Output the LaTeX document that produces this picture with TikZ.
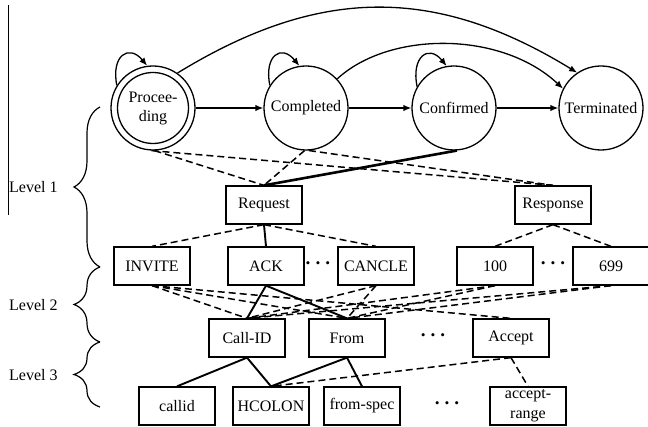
\documentclass[tikz,border=0pt]{standalone}
\usepackage{fontspec}
\setmainfont{Liberation Serif}
\usetikzlibrary{arrows.meta,decorations.pathreplacing}
\newcommand\mydots{{\fontsize{19}{19}\selectfont\bfseries ·\hspace{3.5pt}·\hspace{3.5pt}·}}
\begin{document}
\begin{tikzpicture}[x=1pt,y=1pt,
  font=\fontsize{16}{19}\selectfont,
  state/.style={circle,draw,line width=1.3pt,minimum size=84pt,inner sep=0pt,align=center},
  box/.style={rectangle,draw,line width=1.3pt,minimum width=76pt,minimum height=38pt,inner sep=0pt,align=center},
  arr/.style={line width=1.3pt,-{Latex[length=8pt,width=6.5pt]}},
  sol/.style={line width=1.9pt},
  thk/.style={line width=2.6pt},
  dsh/.style={line width=1.5pt,dash pattern=on 7pt off 4pt},
  lbl/.style={anchor=west,inner sep=0pt},
  brc/.style={line width=1.2pt,decorate,decoration={brace,amplitude=26pt}},
  dotsn/.style={inner sep=0pt}
]
\useasboundingbox (0,0) rectangle (648,427);

% states
\node[state] (pro) at (153,319) {Procee-\\ding};
\draw[line width=1.3pt] (pro.center) circle (35.5);
\node[state] (com) at (306,319) {Completed};
\node[state] (con) at (454,319) {Confirmed};
\node[state] (ter) at (601,319) {Terminated};

\draw[arr] (pro) -- (com);
\draw[arr] (com) -- (con);
\draw[arr] (con) -- (ter);
\draw[arr] (pro.148) .. controls +(-6,30) and +(-18,22) .. (pro.98);
\draw[arr] (com.148) .. controls +(-6,30) and +(-18,22) .. (com.99);
\draw[arr] (con.150) .. controls +(-6,30) and +(-18,22) .. (con.100);
\draw[arr] (pro.55) .. controls +(142,87) and +(-142,87) .. (ter.124);
\draw[arr] (com.43) .. controls +(52,48) and +(-62,58) .. (ter.153);

% level 1 boxes
\node[box] (req) at (264,222) {Request};
\node[box] (res) at (553,222) {Response};

% level 2 boxes
\node[box] (inv) at (152,161) {INVITE};
\node[box] (ack) at (266,161) {ACK};
\node[box] (can) at (376,161) {CANCLE};
\node[box] (c100) at (495,161) {100};
\node[box] (c699) at (611,161) {699};
\node[dotsn] (d1) at (318,161) {\mydots};
\node[dotsn] (d2) at (553,161) {\mydots};

% level 3 boxes
\node[box] (cid) at (247,89) {Call-ID};
\node[box] (frm) at (347,89) {From};
\node[box] (acc) at (511,89) {Accept};
\node[dotsn] (d3) at (433,89) {\mydots};

% level 4 boxes
\node[box] (cal) at (177,21) {callid};
\node[box] (hco) at (271,21) {HCOLON};
\node[box] (fsp) at (362,21) {from-spec};
\node[box,font=\fontsize{16}{20}\selectfont] (arg) at (528,21) {accept-\\range};
\node[dotsn] (d4) at (447,21) {\mydots};

% states to level 1
\draw[dsh] (pro.-88) -- (req.north);
\draw[dsh] (pro.-92) -- (res.north);
\draw[dsh] (com.-92) -- (req.north);
\draw[dsh] (com.-86) -- (res.north);
\draw[thk] (con.-86) -- (req.north);

% level 1 to level 2
\draw[dsh] (req.south) -- (inv.north);
\draw[sol] (req.south) -- (ack.north);
\draw[dsh] (req.south) -- (can.north);
\draw[dsh] (res.south) -- (c100.north);
\draw[dsh] (res.south) -- (c699.north);

% level 2 to level 3
\draw[dsh] (inv.south) -- (cid.north);
\draw[dsh] (inv.south) -- (frm.north);
\draw[dsh] (inv.south) -- (acc.north);
\draw[sol] (ack.south) -- (cid.north);
\draw[sol] (ack.south) -- (frm.north);
\draw[dsh] (can.south) -- (cid.north);
\draw[dsh] (can.south) -- (frm.north);
\draw[dsh] (c100.south) -- (cid.north);
\draw[dsh] (c100.south) -- (frm.north);
\draw[dsh] (c699.south) -- (cid.north);
\draw[dsh] (c699.south) -- (frm.north);

% level 3 to level 4
\draw[sol] (cid.south) -- (cal.north);
\draw[sol] (cid.south) -- (hco.north);
\draw[sol] (frm.south) -- (hco.north);
\draw[sol] (frm.south) -- (fsp.north);
\draw[dsh] (acc.south) -- (hco.north);
\draw[dsh] (acc.south) -- (arg.north);

% levels
\draw[line width=1pt] (8,422) -- (8,212);
\node[lbl] (l1) at (9,240) {Level 1};
\node[lbl] (l2) at (9,122) {Level 2};
\node[lbl] (l3) at (9,52) {Level 3};
\draw[brc] (100,160) -- (100,320);
\draw[brc] (100,85) -- (100,160);
\draw[brc] (100,20) -- (100,85);
\end{tikzpicture}
\end{document}
